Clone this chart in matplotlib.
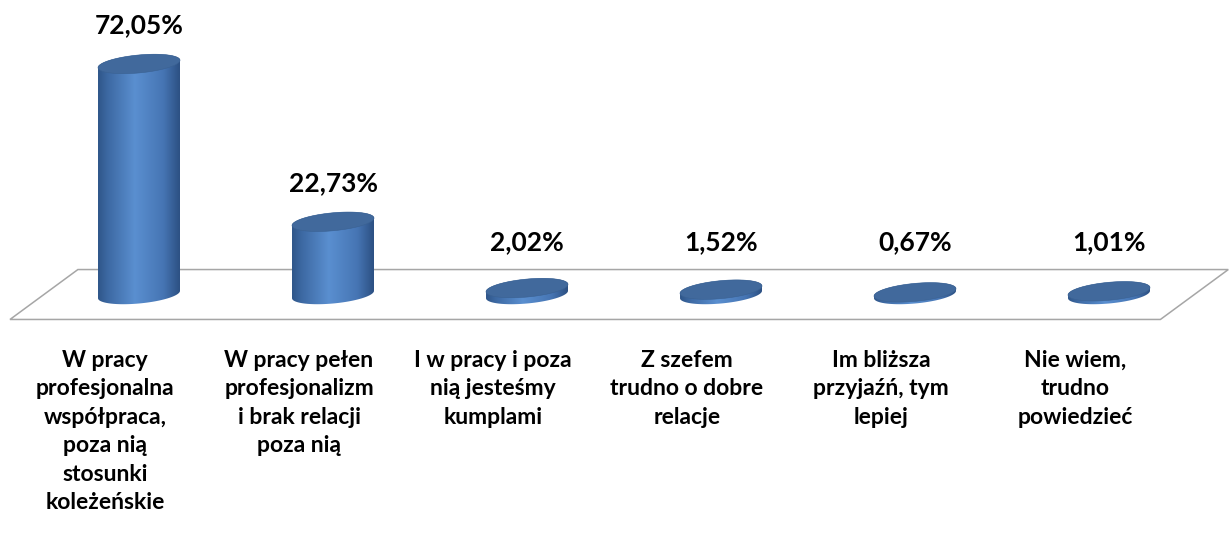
import numpy as np
import matplotlib
matplotlib.use('Agg')
import matplotlib.pyplot as plt
from matplotlib.path import Path
from matplotlib.patches import PathPatch, Polygon
from matplotlib.colors import LinearSegmentedColormap

# ---- data ----
categories = [
    "W pracy\nprofesjonalna\nwspółpraca,\npoza nią\nstosunki\nkoleżeńskie",
    "W pracy pełen\nprofesjonalizm\ni brak relacji\npoza nią",
    "I w pracy i poza\nnią jesteśmy\nkumplami",
    "Z szefem\ntrudno o dobre\nrelacje",
    "Im bliższa\nprzyjaźń, tym\nlepiej",
    "Nie wiem,\ntrudno\npowiedzieć",
]
values = [72.05, 22.73, 2.02, 1.52, 0.67, 1.01]
value_labels = ["72,05%", "22,73%", "2,02%", "1,52%", "0,67%", "1,01%"]

# ---- layout / style ----
FONT = ['Lato', 'DejaVu Sans']
plt.rcParams['font.family'] = FONT

fig = plt.figure(figsize=(12.32, 5.33), dpi=100)
ax = fig.add_axes([0, 0, 1, 1])
ax.set_axis_off()

XLIM = (-0.7165, 5.634)
YLIM = (-74.53, 92.03)

A = 0.2113        # ellipse half width (category units)
B = 2.81          # ellipse half height (value units)
K = 5.456         # tilt (value units per category unit)
DEPTH_X = 0.175   # floor depth offset
DEPTH_Y = 7.8

body_cmap = LinearSegmentedColormap.from_list(
    'cyl', [(0.0, '#2f5689'), (0.12, '#3d69a3'), (0.45, '#5a8fd0'),
            (0.8, '#4675b3'), (1.0, '#2c5083')])
top_color = '#41699c'
floor_color = '#a6a6a6'

n = len(values)
xs = np.arange(n)

# floor (parallelogram)
fl_left, fl_right = -0.49, n - 0.56
floor = Polygon([(fl_left + DEPTH_X, DEPTH_Y), (fl_right + DEPTH_X, DEPTH_Y),
                 (fl_right - DEPTH_X, -DEPTH_Y), (fl_left - DEPTH_X, -DEPTH_Y)],
                closed=True, facecolor='white', edgecolor=floor_color, lw=1.1, zorder=1)
ax.add_patch(floor)


def ell(cx, cy, t):
    return cx + A * np.cos(t), cy + B * np.sin(t) + K * A * np.cos(t)


for x, v in zip(xs, values):
    tb = np.linspace(np.pi, 2 * np.pi, 80)
    tt = np.linspace(0, np.pi, 80)
    bx, by = ell(x, 0.0, tb)
    tx, ty = ell(x, v, tt)
    px = np.concatenate([bx, tx])
    py = np.concatenate([by, ty])
    verts = np.column_stack([px, py])
    body = PathPatch(Path(np.vstack([verts, verts[:1]]), closed=True),
                     facecolor='none', edgecolor='none', zorder=2)
    ax.add_patch(body)
    grad = np.linspace(0, 1, 256).reshape(1, -1)
    im = ax.imshow(grad, extent=[x - A, x + A, -B - K * A - 1, v + B + K * A + 1],
                   aspect='auto', cmap=body_cmap, origin='lower', zorder=2,
                   interpolation='bilinear')
    im.set_clip_path(body)
    ta = np.linspace(0, 2 * np.pi, 160)
    ex, ey = ell(x, v, ta)
    ax.add_patch(Polygon(np.column_stack([ex, ey]), closed=True,
                         facecolor=top_color, edgecolor='#3a6192', lw=0.4, zorder=3))

# value labels
for x, v, lab in zip(xs, values, value_labels):
    ax.text(x, max(v, 4.3) + 9.6, lab, ha='center', va='baseline',
            fontsize=19, fontweight='bold', color='black', zorder=5)

# category labels
for x, cat in zip(xs, categories):
    ax.text(x - DEPTH_X, -DEPTH_Y - 9.5, cat, ha='center', va='top',
            fontsize=16.5, fontweight='bold', color='black',
            linespacing=1.44, zorder=5)

ax.set_xlim(*XLIM)
ax.set_ylim(*YLIM)
fig.savefig('out.png', dpi=100, facecolor='white')
